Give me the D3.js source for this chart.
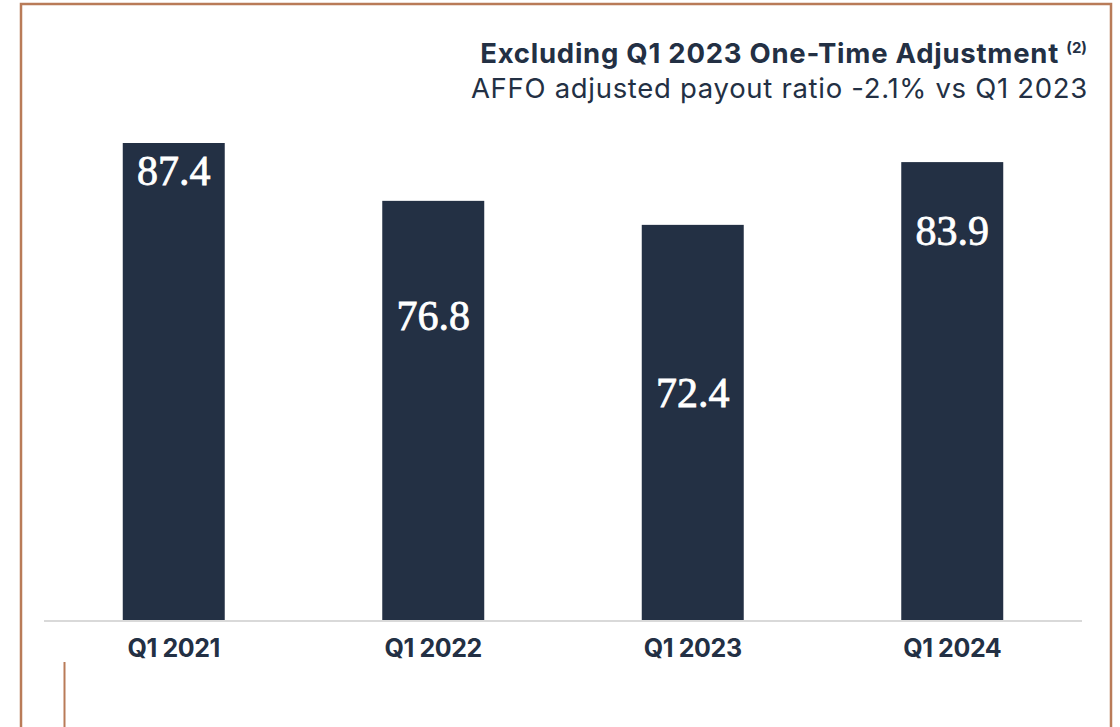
<!DOCTYPE html>
<html>
<head>
<meta charset="utf-8">
<script src="https://cdn.jsdelivr.net/npm/d3@7"></script>
<style>
  html, body { margin: 0; padding: 0; background: #fff; }
  svg { display: block; }
</style>
</head>
<body>
<svg id="chart" width="1120" height="727"></svg>
<script>
// AFFO adjusted payout ratio by first quarter
const categories = ["Q1 2021", "Q1 2022", "Q1 2023", "Q1 2024"];
const payoutRatio = [87.4, 76.8, 72.4, 83.9];
const titleText = "Excluding Q1 2023 One-Time Adjustment";
const titleNote = "(2)";
const subtitleText = "AFFO adjusted payout ratio -2.1% vs Q1 2023";

// Where each value label sits inside its bar, as a share of the bar height from the top
const labelDepth = [0.057, 0.272, 0.423, 0.148];

const navy = "#233044";
const copper = "#b97b58";
const sans = "Inter, 'Liberation Sans', sans-serif";

const svg = d3.select("#chart");

// Frame
svg.append("path")
  .attr("d", "M21,727 V4 H1111 V727")
  .attr("fill", "none")
  .attr("stroke", copper)
  .attr("stroke-width", 2.5);
svg.append("line")
  .attr("x1", 64.5).attr("x2", 64.5)
  .attr("y1", 662).attr("y2", 727)
  .attr("stroke", copper)
  .attr("stroke-width", 2);

const plot = { left: 44, right: 1082, top: 143, bottom: 620 };

const x = d3.scaleBand()
  .domain(categories)
  .range([plot.left, plot.right])
  .paddingInner(0.607)
  .paddingOuter(0.3035);

const y = d3.scaleLinear()
  .domain([0, d3.max(payoutRatio)])
  .range([plot.bottom, plot.top]);

const data = categories.map((c, i) => ({ cat: c, value: payoutRatio[i], depth: labelDepth[i] }));

// Bars
svg.append("g").selectAll("rect")
  .data(data)
  .join("rect")
  .attr("x", d => x(d.cat))
  .attr("width", x.bandwidth())
  .attr("y", d => y(d.value))
  .attr("height", d => y(0) - y(d.value))
  .attr("fill", navy);

// Value labels
svg.append("g").selectAll("text")
  .data(data)
  .join("text")
  .attr("x", d => x(d.cat) + x.bandwidth() / 2)
  .attr("y", d => y(d.value) + (y(0) - y(d.value)) * d.depth + 15)
  .attr("text-anchor", "middle")
  .attr("font-family", "'Liberation Serif', 'DejaVu Serif', serif")
  .attr("font-size", 42)
  .attr("fill", "#ffffff")
  .attr("stroke", "#ffffff")
  .attr("stroke-width", 0.8)
  .text(d => d.value.toFixed(1));

// Baseline
svg.append("line")
  .attr("x1", plot.left).attr("x2", plot.right)
  .attr("y1", plot.bottom + 1).attr("y2", plot.bottom + 1)
  .attr("stroke", "#d9d9d9")
  .attr("stroke-width", 2);

// Category axis
const xAxis = svg.append("g")
  .attr("transform", `translate(0,${plot.bottom + 2})`)
  .call(d3.axisBottom(x).tickSize(0).tickPadding(0));
xAxis.select(".domain").remove();
xAxis.selectAll("text")
  .attr("dy", null)
  .attr("y", 35)
  .attr("font-family", sans)
  .attr("font-weight", 700)
  .attr("font-size", 25)
  .attr("letter-spacing", "-0.4px")
  .attr("fill", navy);

// Heading
const title = svg.append("text")
  .attr("x", 1087)
  .attr("y", 63)
  .attr("text-anchor", "end")
  .attr("font-family", sans)
  .attr("fill", navy);
title.append("tspan")
  .attr("font-weight", 700)
  .attr("font-size", 27.5)
  .attr("letter-spacing", "0.75px")
  .text(titleText + " ");
title.append("tspan")
  .attr("font-weight", 700)
  .attr("font-size", 15)
  .attr("dy", -10)
  .text(titleNote);

svg.append("text")
  .attr("x", 1088)
  .attr("y", 97.5)
  .attr("text-anchor", "end")
  .attr("font-family", sans)
  .attr("font-size", 27.5)
  .attr("letter-spacing", "0.7px")
  .attr("fill", navy)
  .text(subtitleText);
</script>
</body>
</html>
